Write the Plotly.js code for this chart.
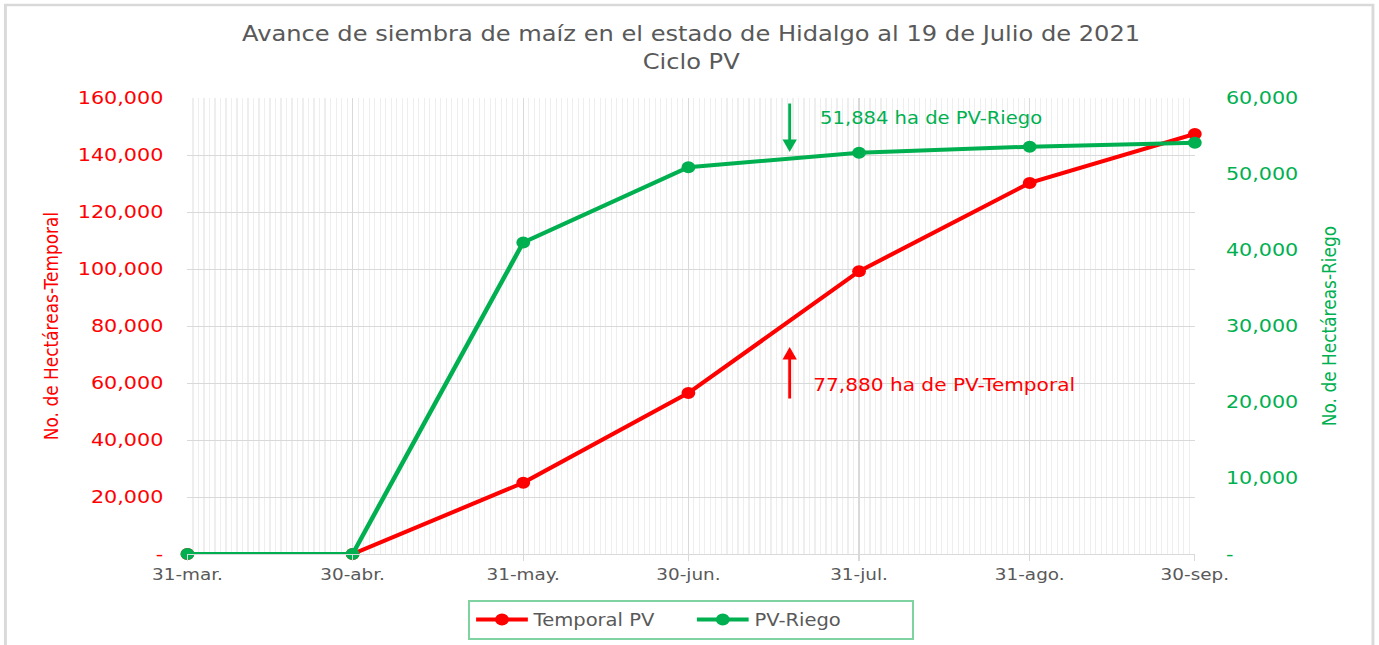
<!DOCTYPE html>
<html>
<head>
<meta charset="utf-8">
<script src="https://cdn.plot.ly/plotly-3.0.1.min.js"></script>
<style>
html,body{margin:0;padding:0;background:#fff;overflow:hidden;}
#wrap{width:1379px;height:645px;overflow:hidden;}
#chart{width:1199px;height:645px;transform:scaleX(1.15);transform-origin:0 0;}
</style>
</head>
<body>
<div id="wrap"><div id="chart"></div></div>
<script>
var dates = ['2021-03-31','2021-04-30','2021-05-31','2021-06-30','2021-07-31','2021-08-31','2021-09-30'];
var xTickLabels = ['31-mar.','30-abr.','31-may.','30-jun.','31-jul.','31-ago.','30-sep.'];
var temporal = [0, 0, 25000, 56500, 99200, 130200, 147400];
var riego = [0, 0, 41000, 50900, 52800, 53600, 54100];
var leftTickVals = [0,20000,40000,60000,80000,100000,120000,140000,160000];
var leftTickText = ['-','20,000','40,000','60,000','80,000','100,000','120,000','140,000','160,000'];
var rightTickVals = [0,10000,20000,30000,40000,50000,60000];
var rightTickText = ['-','10,000','20,000','30,000','40,000','50,000','60,000'];

var RED = '#FF0000', GREEN = '#00B050', GRAY = '#595959';
var FONT = 'DejaVu Sans, Open Sans, sans-serif';

var traces = [
  {x: dates, y: temporal, name: 'Temporal PV', type: 'scatter', mode: 'lines+markers',
   line: {color: RED, width: 4}, marker: {color: RED, size: 12}, cliponaxis: false, yaxis: 'y'},
  {x: dates, y: riego, name: 'PV-Riego', type: 'scatter', mode: 'lines+markers',
   line: {color: GREEN, width: 4}, marker: {color: GREEN, size: 12}, cliponaxis: false, yaxis: 'y2'}
];

var layout = {
  width: 1199, height: 645,
  margin: {l: 163, r: 160, t: 98, b: 91},
  paper_bgcolor: '#fff', plot_bgcolor: '#fff',
  font: {family: FONT, color: GRAY},
  title: {text: 'Avance de siembra de maíz en el estado de Hidalgo al 19 de Julio de 2021<br>Ciclo PV',
          font: {family: FONT, size: 21, color: GRAY}, xref: 'paper', x: 0.5, xanchor: 'center',
          y: 0.936, yanchor: 'top', yref: 'container'},
  showlegend: true,
  legend: {orientation: 'h', xref: 'paper', x: 0.5, xanchor: 'center', yref: 'container', y: 0.0698, yanchor: 'top',
           bordercolor: '#7fd3a0', borderwidth: 2, font: {family: FONT, size: 17, color: GRAY},
           itemwidth: 45, entrywidth: 132, entrywidthmode: 'pixels'},
  xaxis: {type: 'date', range: ['2021-03-31','2021-09-30'],
          tickmode: 'array', tickvals: dates, ticktext: xTickLabels,
          tickfont: {family: FONT, size: 16, color: GRAY},
          showgrid: true, gridcolor: '#d9d9d9', gridwidth: 1,
          ticks: 'outside', ticklen: 6, tickcolor: '#d9d9d9',
          showline: true, linecolor: '#d9d9d9', linewidth: 1,
          zeroline: false,
          minor: {tickmode: 'linear', tick0: '2021-03-31', dtick: 86400000, showgrid: true, gridcolor: '#eeeeee', gridwidth: 1, ticks: ''}},
  yaxis: {range: [0, 160000], tickmode: 'array', tickvals: leftTickVals, ticktext: leftTickText,
          tickfont: {family: FONT, size: 18, color: RED}, ticks: '', ticklabelstandoff: 20,
          showgrid: true, gridcolor: '#d9d9d9', gridwidth: 1, zeroline: false,
          title: {text: 'No. de Hectáreas-Temporal', font: {family: FONT, size: 17, color: RED}, standoff: 12}},
  yaxis2: {range: [0, 60000], overlaying: 'y', side: 'right', tickmode: 'array', tickvals: rightTickVals, ticktext: rightTickText,
          tickfont: {family: FONT, size: 18, color: GREEN}, ticks: '', ticklabelstandoff: 26,
          showgrid: false, zeroline: false,
          title: {text: 'No. de Hectáreas-Riego', font: {family: FONT, size: 17, color: GREEN}, standoff: 21}},
  annotations: [
    {xref: 'paper', yref: 'paper', x: 0.5978, y: 0.8816, ax: 0, ay: -50, text: '', showarrow: true,
     arrowhead: 2, arrowsize: 1, arrowwidth: 2.5, arrowcolor: GREEN},
    {xref: 'paper', yref: 'paper', x: 0.6256, y: 0.956, xanchor: 'left', yanchor: 'middle', showarrow: false,
     text: '51,884 ha de PV-Riego', font: {family: FONT, size: 17, color: GREEN}},
    {xref: 'paper', yref: 'paper', x: 0.5978, y: 0.4539, ax: 0, ay: 53, text: '', showarrow: true,
     arrowhead: 2, arrowsize: 1, arrowwidth: 2.5, arrowcolor: RED},
    {xref: 'paper', yref: 'paper', x: 0.6187, y: 0.3706, xanchor: 'left', yanchor: 'middle', showarrow: false,
     text: '77,880 ha de PV-Temporal', font: {family: FONT, size: 17.5, color: RED}}
  ],
  shapes: [
    {type: 'rect', xref: 'paper', yref: 'paper', x0: -0.1807, x1: 1.1768, y0: -0.215, y1: 1.2039,
     line: {color: '#d9d9d9', width: 2.5}, fillcolor: 'rgba(0,0,0,0)', layer: 'below'}
  ]
};

Plotly.newPlot('chart', traces, layout, {displayModeBar: false, staticPlot: true});
</script>
</body>
</html>
